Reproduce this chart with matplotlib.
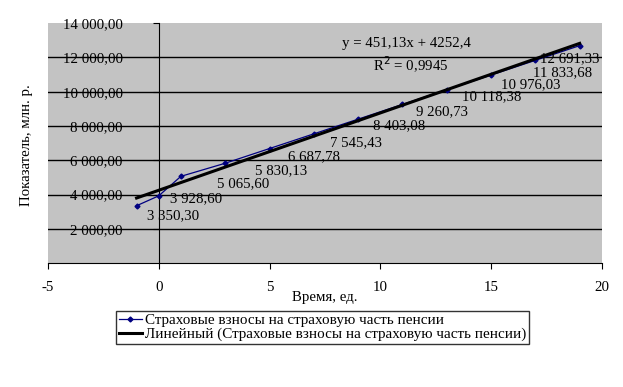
import matplotlib.pyplot as plt

plt.rcParams['font.family'] = ['Liberation Serif', 'DejaVu Serif']
plt.rcParams['axes.unicode_minus'] = False

# data
x_vals = [-1, 0, 1, 3, 5, 7, 9, 11, 13, 15, 17, 19]
y_vals = [3350.30, 3928.60, 5065.60, 5830.13, 6687.78, 7545.43,
          8403.08, 9260.73, 10118.38, 10976.03, 11833.68, 12691.33]
trend_slope = 451.13
trend_icept = 4252.4
r2 = 0.9945
series_name = 'Страховые взносы на страховую часть пенсии'

def fmt(v):
    s = f'{v:,.2f}'
    return s.replace(',', ' ').replace('.', ',')

# label offsets in pixels (manual placement like in the original)
lbl_off = [(10, -10), (11, -3), (36, -7), (30, -7), (18, -8), (16, -9),
           (15, -7), (14, -7), (15, -7), (10, -10), (-2, -12), (-40, -13)]

fig = plt.figure(figsize=(6.23, 3.87), dpi=100)
ax = fig.add_axes([0.077, 0.320, 0.889, 0.620])
ax.set_facecolor('#c3c3c3')

ax.plot(x_vals, y_vals, color='#000080', lw=0.9, marker='D', ms=2.5,
        label=series_name, zorder=3)
tx = [x_vals[0], x_vals[-1]]
ty = [trend_slope * v + trend_icept for v in tx]
ax.plot(tx, ty, color='black', lw=2.2, label='Линейный (' + series_name + ')', zorder=4)

for xv, yv, off in zip(x_vals, y_vals, lbl_off):
    ax.annotate(fmt(yv), (xv, yv), xytext=off, textcoords='offset pixels',
                ha='left', va='center', fontsize=10.7, zorder=5)

ax.text(11.2, 12830, f'y = {trend_slope:.2f}x + {trend_icept:.1f}'.replace('.', ','),
        ha='center', va='center', fontsize=10.7)
ax.text(11.37, 11550, f'R$^2$ = {r2:.4f}'.replace('.', ','),
        ha='center', va='center', fontsize=10.7)

ax.set_xlim(-5, 20)
ax.set_ylim(0, 14000)
ax.set_xticks(range(-5, 21, 5))
ax.set_yticks(range(2000, 14001, 2000))
ax.set_yticklabels([fmt(v) for v in range(2000, 14001, 2000)])

ax.spines['left'].set_position(('data', 0))
ax.spines['top'].set_visible(False)
ax.spines['right'].set_visible(False)
ax.tick_params(axis='y', direction='out', length=4, pad=22, labelsize=10.7)
ax.tick_params(axis='x', direction='out', length=4, pad=9, labelsize=10.7)

ax.yaxis.grid(True, color='black', lw=1)
ax.get_ygridlines()[-1].set_visible(False)
ax.set_axisbelow(True)

fig.text(0.522, 0.232, 'Время, ед.', ha='center', va='center', fontsize=10.7)
fig.text(0.042, 0.625, 'Показатель, млн. р.', rotation=90, ha='center', va='center', fontsize=10.7)

leg = fig.legend(loc='upper left', bbox_to_anchor=(0.186, 0.197), frameon=True,
                 fontsize=10.9, handlelength=1.5, handletextpad=0.2,
                 borderpad=0.2, labelspacing=0.0, fancybox=False,
                 borderaxespad=0)
leg.get_frame().set_edgecolor('black')
leg.get_frame().set_linewidth(1)

fig.savefig('out.png', dpi=100)
